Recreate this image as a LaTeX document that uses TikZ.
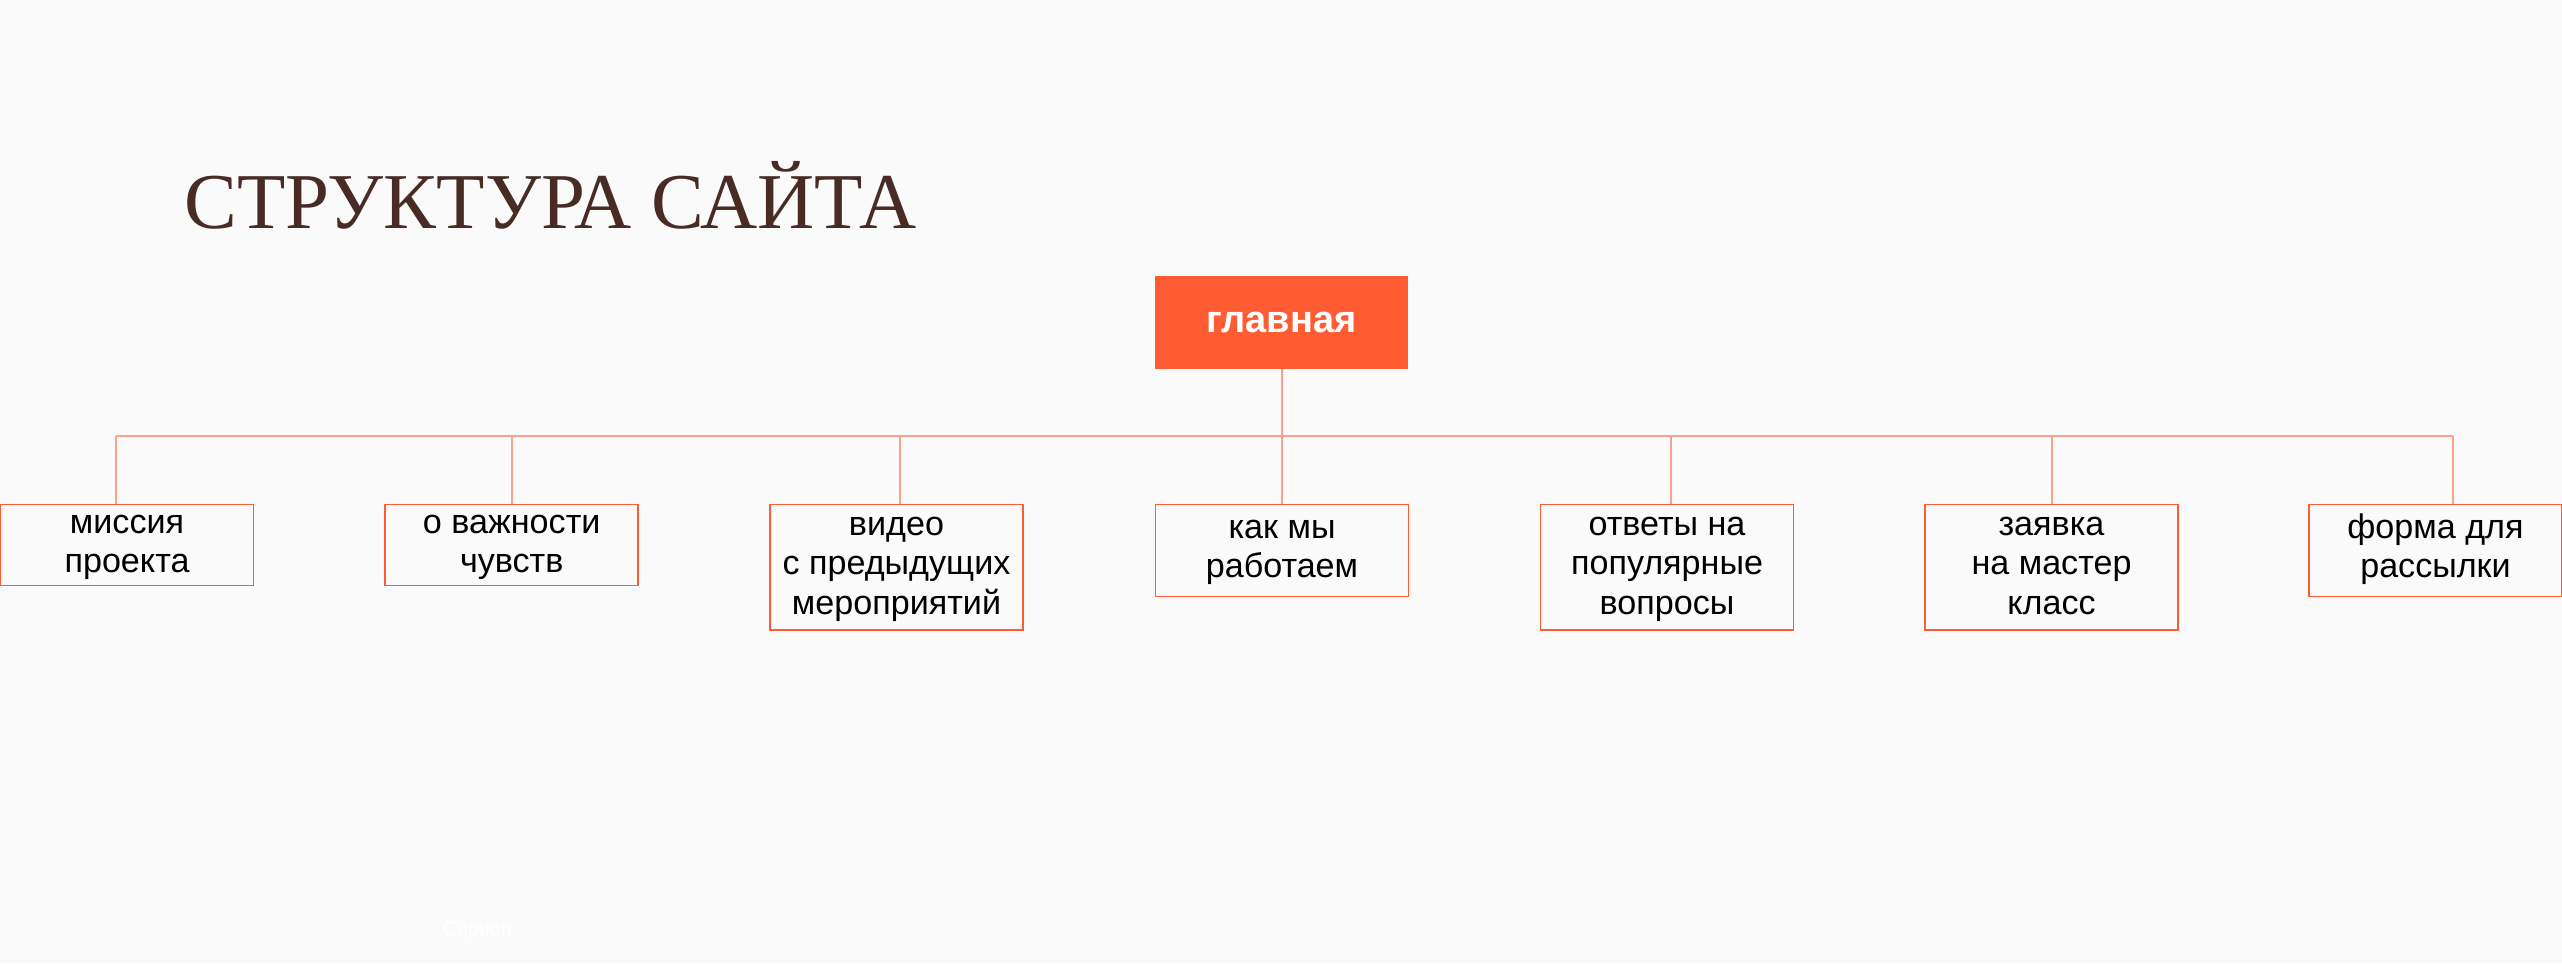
\documentclass[tikz,border=0pt]{standalone}
\usepackage{fontspec}
\setmainfont{Liberation Sans}
\newfontfamily\titlefont{Liberation Serif}
\usepackage{tikz}

\definecolor{pagebg}{HTML}{FAFAFA}
\definecolor{titlebrown}{HTML}{472B24}
\definecolor{accent}{HTML}{FF5C33}
\definecolor{busline}{HTML}{FFA08A}

\begin{document}
\begin{tikzpicture}[x=0.01cm,y=-0.01cm,
  mainbox/.style={fill=accent,text=white,minimum width=2.53cm,minimum height=0.92cm,inner sep=0pt,font=\fontsize{10.8}{13}\selectfont\bfseries},
  subbox/.style={draw=accent,line width=0.5pt,anchor=north,align=center,minimum width=2.53cm,inner sep=0pt,font=\fontsize{9.7}{11.1}\selectfont},
  bus/.style={draw=busline,line width=0.6pt}]
\fill [pagebg] (0,0) rectangle (2562,963);
\useasboundingbox (0,0) rectangle (2562,963);
\node [anchor=base west,inner sep=0pt,text=titlebrown,font=\titlefont\fontsize{22.5}{27}\selectfont] (title) at (184,228) {СТРУКТУРА САЙТА};
\node [mainbox] (main) at (1281.5,322.5) {главная};
\node [subbox,minimum height=0.81cm] (mission) at (127,503.5) {\strut миссия\\\strut проекта};
\node [subbox,minimum height=0.81cm] (importance) at (511.7,503.5) {\strut о важности\\\strut чувств};
\node [subbox,minimum height=1.255cm] (video) at (896.5,503.5) {\strut видео\\\strut с предыдущих\\\strut мероприятий};
\node [subbox,minimum height=0.92cm] (how) at (1282,503.5) {\strut как мы\\\strut работаем};
\node [subbox,minimum height=1.255cm] (answers) at (1667,503.5) {\strut ответы на\\\strut популярные\\\strut вопросы};
\node [subbox,minimum height=1.255cm] (apply) at (2051.5,503.5) {\strut заявка\\\strut на мастер\\\strut класс};
\node [subbox,minimum height=0.92cm] (form) at (2435.5,503.5) {\strut форма для\\\strut рассылки};
\node [anchor=base west,inner sep=0pt,text=white,font=\fontsize{5.7}{7}\selectfont] (caption) at (442,935) {Caption};
% connectors
\foreach \n/\x in {mission/116,importance/511.6,video/900,answers/1670.6,apply/2051.8,form/2452.6}{
  \coordinate (j\n) at (\x,435.7);
  \draw [bus] (j\n) -- (j\n |- \n.north);
}
\draw [bus] (jmission) -- (jform);
\draw [bus] (main.south -| how.north) -- (how.north);
\end{tikzpicture}
\end{document}
